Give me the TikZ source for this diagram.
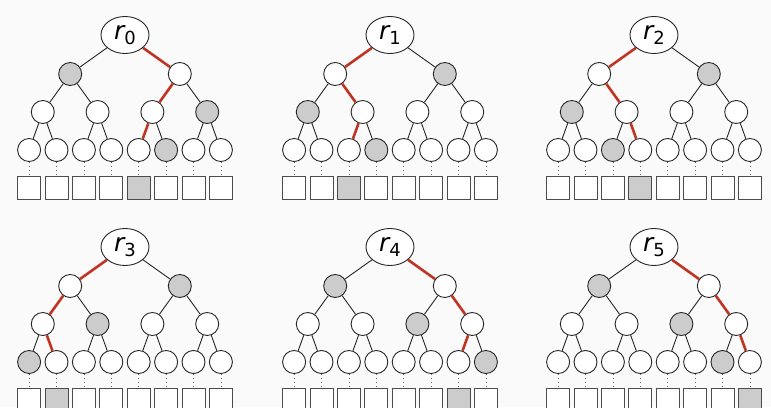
\documentclass[tikz,border=0pt]{standalone}
\usepackage{fontspec}
\setmainfont{DejaVu Sans}
\usetikzlibrary{shapes.geometric}
\definecolor{bgc}{RGB}{250,250,250}
\definecolor{pathred}{RGB}{192,52,36}
\definecolor{nodegray}{RGB}{204,204,204}
\begin{document}
\begin{tikzpicture}[x=1pt,y=1pt,
  tn/.style={circle,draw=black!85,line width=0.9pt,minimum size=23pt,inner sep=0pt},
  rt/.style={ellipse,draw=black!85,line width=0.9pt,fill=white,minimum width=48pt,minimum height=37pt,inner sep=0pt},
  bx/.style={rectangle,draw=black!70,line width=0.9pt,minimum size=23pt,inner sep=0pt},
  dt/.style={black!60,line width=0.6pt,dash pattern=on 0.6pt off 3.5pt}]
\fill[bgc] (0,0) rectangle (771,407);
\useasboundingbox (0,0) rectangle (771,407);
\foreach \t/\cx/\cy/\p in {0/125/372/4, 1/390/372/2, 2/654/372/3, 3/125/160/1, 4/390/160/6, 5/654/160/7} {
  \node[rt] (n\t-0-0) at (\cx,\cy) {\fontsize{25}{28}\selectfont\itshape r\raisebox{-5pt}{\upshape\fontsize{18}{20}\selectfont\t}};
  \foreach \l/\dy in {1/39,2/77,3/115} {
    \pgfmathtruncatemacro\nn{2^\l-1}
    \pgfmathtruncatemacro\pp{floor(\p/2^(3-\l))}
    \pgfmathtruncatemacro\pq{floor(\p/2^(4-\l))}
    \pgfmathtruncatemacro\lp{\l-1}
    \foreach \j in {0,...,\nn} {
      \pgfmathsetmacro\xx{\cx+((\j+0.5)*2^(3-\l)-4)*27.4}
      \pgfmathtruncatemacro\pj{floor(\j/2)}
      \pgfmathtruncatemacro\isg{((\pj==\pq)&&(\j!=\pp)) ? 1 : 0}
      \pgfmathtruncatemacro\isr{(\j==\pp) ? 1 : 0}
      \ifnum\isg=1 \def\fc{nodegray}\else\def\fc{white}\fi
      \ifnum\isr=1 \def\ec{pathred}\def\lw{2.6pt}\else\def\ec{black!85}\def\lw{0.9pt}\fi
      \node[tn,fill=\fc] (n\t-\l-\j) at (\xx,\cy-\dy) {};
      \draw[draw=\ec,line width=\lw] (n\t-\lp-\pj) -- (n\t-\l-\j);
    }
  }
  \foreach \j in {0,...,7} {
    \pgfmathsetmacro\xx{\cx+(\j-3.5)*27.4}
    \ifnum\j=\p \def\fc{nodegray}\else\def\fc{white}\fi
    \node[bx,fill=\fc] (s\t-\j) at (\xx,\cy-152.5) {};
    \draw[dt] (n\t-3-\j.south) -- (s\t-\j.north);
  }
}
\end{tikzpicture}
\end{document}
